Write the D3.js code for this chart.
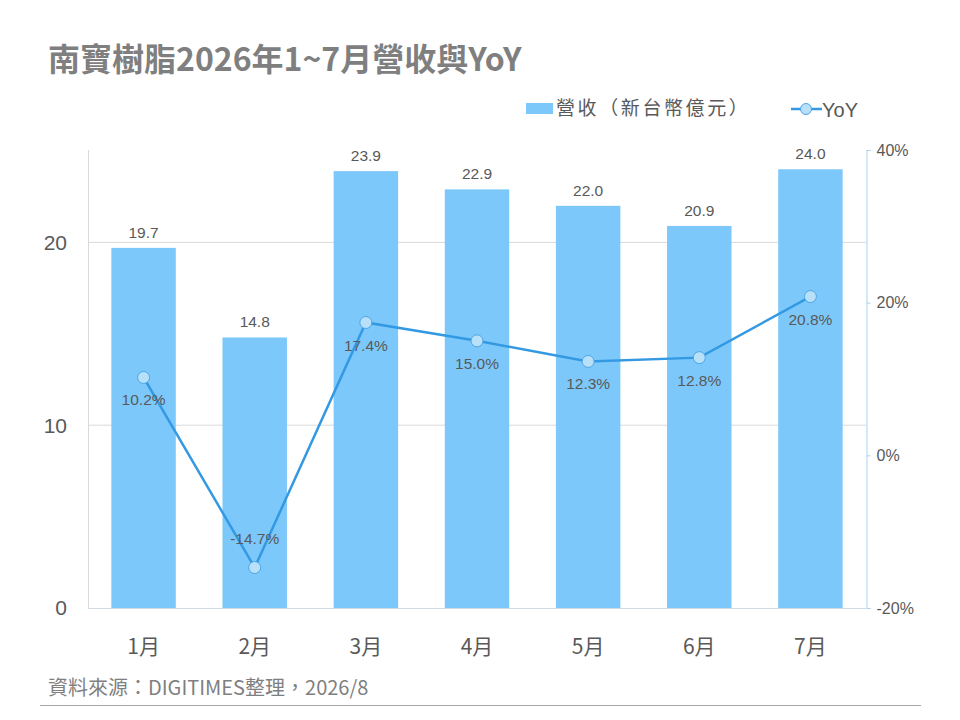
<!DOCTYPE html>
<html>
<head>
<meta charset="utf-8">
<script src="https://cdn.jsdelivr.net/npm/d3@7"></script>
<style>
  body { margin: 0; background: #fff; }
  text { font-family: "Liberation Sans", "Noto Sans CJK TC", sans-serif; fill: #595959; }
  .cjk { font-family: "Noto Sans CJK TC", sans-serif; }
</style>
</head>
<body>
<script>
var months = ["1月", "2月", "3月", "4月", "5月", "6月", "7月"];
var revenue = [19.7, 14.8, 23.9, 22.9, 22.0, 20.9, 24.0];
var yoy = [10.2, -14.7, 17.4, 15.0, 12.3, 12.8, 20.8];
var leftTicks = [0, 10, 20];
var rightTicks = [-20, 0, 20, 40];

var data = months.map((m, i) => ({month: m, rev: revenue[i], yoy: yoy[i]}));

var svg = d3.select("body").append("svg")
    .attr("width", 960)
    .attr("height", 720);

var scalex = d3.scaleBand()
    .domain(months)
    .range([88, 866])
    .paddingInner(0.42)
    .paddingOuter(0.21);

var scaley = d3.scaleLinear()
    .domain([0, 25])
    .range([608, 151]);

var scaley2 = d3.scaleLinear()
    .domain([-20, 40])
    .range([608, 150]);

// title
svg.append("text")
    .attr("class", "cjk")
    .attr("x", 48)
    .attr("y", 71)
    .attr("font-size", 32)
    .attr("font-weight", "bold")
    .style("fill", "#7f7f7f")
    .text("南寶樹脂2026年1~7月營收與YoY");

// gridlines
svg.append("g")
    .selectAll("line")
    .data(leftTicks.filter(d => d > 0))
    .enter()
    .append("line")
    .attr("x1", 88).attr("x2", 866)
    .attr("y1", d => scaley(d)).attr("y2", d => scaley(d))
    .attr("stroke", "#d9d9d9");

// left axis line
svg.append("line")
    .attr("x1", 88.5).attr("x2", 88.5)
    .attr("y1", 150).attr("y2", 608)
    .attr("stroke", "#d9d9d9");

// left tick labels
svg.append("g")
    .selectAll("text")
    .data(leftTicks)
    .enter()
    .append("text")
    .attr("x", 67)
    .attr("y", d => scaley(d))
    .attr("dy", "0.35em")
    .attr("text-anchor", "end")
    .attr("font-size", 21)
    .text(d => d);

// bars
svg.append("g")
    .selectAll("rect")
    .data(data)
    .enter()
    .append("rect")
    .attr("x", d => scalex(d.month))
    .attr("y", d => scaley(d.rev))
    .attr("width", scalex.bandwidth())
    .attr("height", d => scaley(0) - scaley(d.rev))
    .attr("fill", "#7dc8fa");

svg.append("g")
    .selectAll("text")
    .data(data)
    .enter()
    .append("text")
    .attr("x", d => scalex(d.month) + scalex.bandwidth() / 2)
    .attr("y", d => scaley(d.rev) - 10)
    .attr("text-anchor", "middle")
    .attr("font-size", 15.5)
    .text(d => d.rev.toFixed(1));

// bottom axis line
svg.append("line")
    .attr("x1", 88).attr("x2", 866)
    .attr("y1", 608.5).attr("y2", 608.5)
    .attr("stroke", "#d0dbe6");

// x labels
svg.append("g")
    .selectAll("text")
    .data(months)
    .enter()
    .append("text")
    .attr("class", "cjk")
    .attr("x", d => scalex(d) + scalex.bandwidth() / 2)
    .attr("y", 654)
    .attr("text-anchor", "middle")
    .attr("font-size", 21)
    .text(d => d);

// right axis
var y_axis2 = d3.axisRight()
    .scale(scaley2)
    .tickValues(rightTicks)
    .tickSize(4)
    .tickFormat(d => d + "%");

var ax = svg.append("g")
    .attr("transform", "translate(866.5, 0)")
    .call(y_axis2);
ax.select(".domain").attr("stroke", "#a9d4f0");
ax.selectAll(".tick line").attr("stroke", "#a9d4f0");
ax.selectAll(".tick text")
    .attr("x", 10)
    .attr("font-size", 16)
    .style("font-family", "Liberation Sans, sans-serif")
    .style("fill", "#595959");

// yoy line
var line = d3.line()
    .x(d => scalex(d.month) + scalex.bandwidth() / 2)
    .y(d => scaley2(d.yoy));

svg.append("path")
    .datum(data)
    .attr("d", line)
    .attr("fill", "none")
    .attr("stroke", "#3399e3")
    .attr("stroke-width", 2.5);

svg.append("g")
    .selectAll("circle")
    .data(data)
    .enter()
    .append("circle")
    .attr("cx", d => scalex(d.month) + scalex.bandwidth() / 2)
    .attr("cy", d => scaley2(d.yoy))
    .attr("r", 6)
    .attr("fill", "#b8e0f8")
    .attr("stroke", "#4ca6e6")
    .attr("stroke-width", 1);

svg.append("g")
    .selectAll("text")
    .data(data)
    .enter()
    .append("text")
    .attr("x", d => scalex(d.month) + scalex.bandwidth() / 2)
    .attr("y", d => d.yoy < 0 ? scaley2(d.yoy) - 24 : scaley2(d.yoy) + 28)
    .attr("text-anchor", "middle")
    .attr("font-size", 15.5)
    .text(d => d.yoy.toFixed(1) + "%");

// legend
svg.append("rect")
    .attr("x", 526).attr("y", 103)
    .attr("width", 27).attr("height", 11)
    .attr("fill", "#7dc8fa");
svg.append("text")
    .attr("class", "cjk")
    .attr("x", 556).attr("y", 115)
    .attr("font-size", 19)
    .attr("letter-spacing", 2.6)
    .text("營收（新台幣億元）");

svg.append("line")
    .attr("x1", 791).attr("x2", 822)
    .attr("y1", 109).attr("y2", 109)
    .attr("stroke", "#3399e3")
    .attr("stroke-width", 2.5);
svg.append("circle")
    .attr("cx", 806).attr("cy", 109).attr("r", 5.5)
    .attr("fill", "#b8e0f8")
    .attr("stroke", "#4ca6e6");
svg.append("text")
    .attr("x", 822).attr("y", 117)
    .attr("font-size", 20)
    .text("YoY");

// source
svg.append("text")
    .attr("class", "cjk")
    .attr("x", 48).attr("y", 695)
    .attr("font-size", 20)
    .style("fill", "#7f7f7f")
    .text("資料來源：DIGITIMES整理，2026/8");

svg.append("line")
    .attr("x1", 40).attr("x2", 921)
    .attr("y1", 705.5).attr("y2", 705.5)
    .attr("stroke", "#a6a6a6");
</script>
</body>
</html>
